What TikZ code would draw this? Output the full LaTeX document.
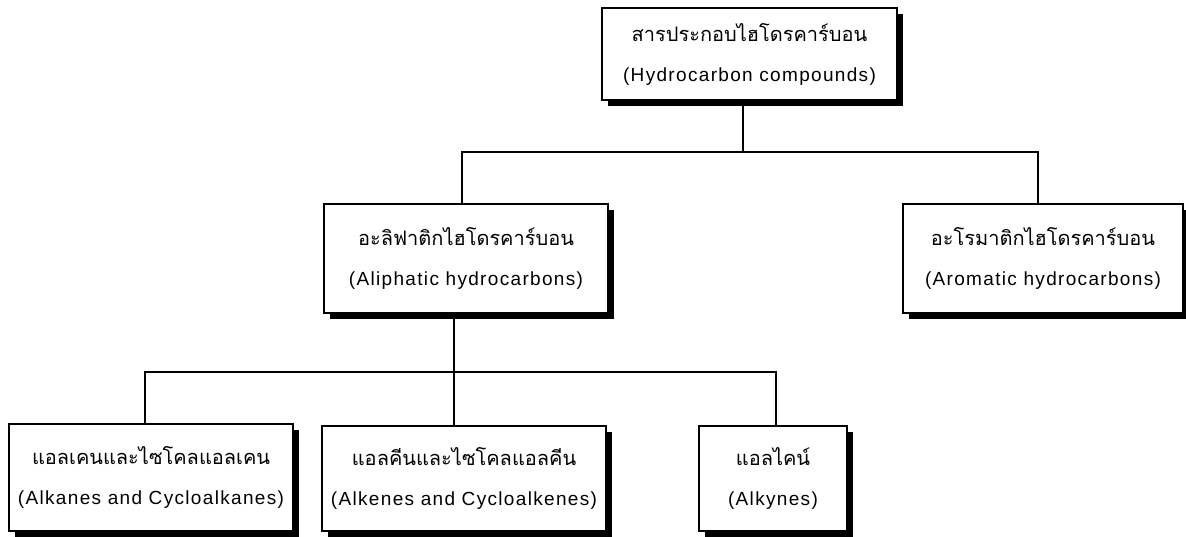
\documentclass[tikz,border=0pt]{standalone}
\usepackage{fontspec}
\setmainfont{Liberation Sans}[LetterSpace=7]
\newfontfamily\thai[Script=Thai]{Loma}
\usetikzlibrary{shadows}
\tikzset{
  box/.style={draw=black, line width=1.6pt, fill=white, align=center,
    inner sep=0pt, font=\fontsize{19}{40}\selectfont,
    drop shadow={shadow xshift=6pt, shadow yshift=-6pt, fill=black, opacity=1}},
  conn/.style={draw=black, line width=1.6pt}
}
\begin{document}
\begin{tikzpicture}[x=1pt,y=-1pt]
\useasboundingbox (0,0) rectangle (1186,537);
\node[box, minimum width=295pt, minimum height=92pt] (top) at (749.5,54)
  {{\thai\fontsize{20}{40}\selectfont สารประกอบไฮโดรคาร์บอน}\\(Hydrocarbon compounds)};
\node[box, minimum width=284pt, minimum height=109pt] (ali) at (466,258.5)
  {{\thai\fontsize{20}{40}\selectfont อะลิฟาติกไฮโดรคาร์บอน}\\(Aliphatic hydrocarbons)};
\node[box, minimum width=280pt, minimum height=109pt] (aro) at (1043,258.5)
  {{\thai\fontsize{20}{40}\selectfont อะโรมาติกไฮโดรคาร์บอน}\\(Aromatic hydrocarbons)};
\node[box, minimum width=284pt, minimum height=107pt] (alk) at (151,477.5)
  {{\thai\fontsize{20}{40}\selectfont แอลเคนและไซโคลแอลเคน}\\(Alkanes and Cycloalkanes)};
\node[box, minimum width=284pt, minimum height=105pt] (ene) at (464,478.5)
  {{\thai\fontsize{20}{40}\selectfont แอลคีนและไซโคลแอลคีน}\\(Alkenes and Cycloalkenes)};
\node[box, minimum width=148pt, minimum height=105pt] (yne) at (773,478.5)
  {{\thai\fontsize{20}{40}\selectfont แอลไคน์}\\(Alkynes)};
% junction coordinates
\coordinate (j1) at (743,152);
\coordinate (xa) at (462,152);
\coordinate (xb) at (1038,152);
\coordinate (j2) at (454,372);
\coordinate (xc) at (145,372);
\coordinate (xd) at (776,372);
% connectors
\draw[conn] (top.south -| j1) -- (j1);
\draw[conn] (ali.north -| xa) -- (xa) -- (xb) -- (aro.north -| xb);
\draw[conn] (ali.south -| j2) -- (ene.north -| j2);
\draw[conn] (alk.north -| xc) -- (xc) -- (xd) -- (yne.north -| xd);
\end{tikzpicture}
\end{document}
